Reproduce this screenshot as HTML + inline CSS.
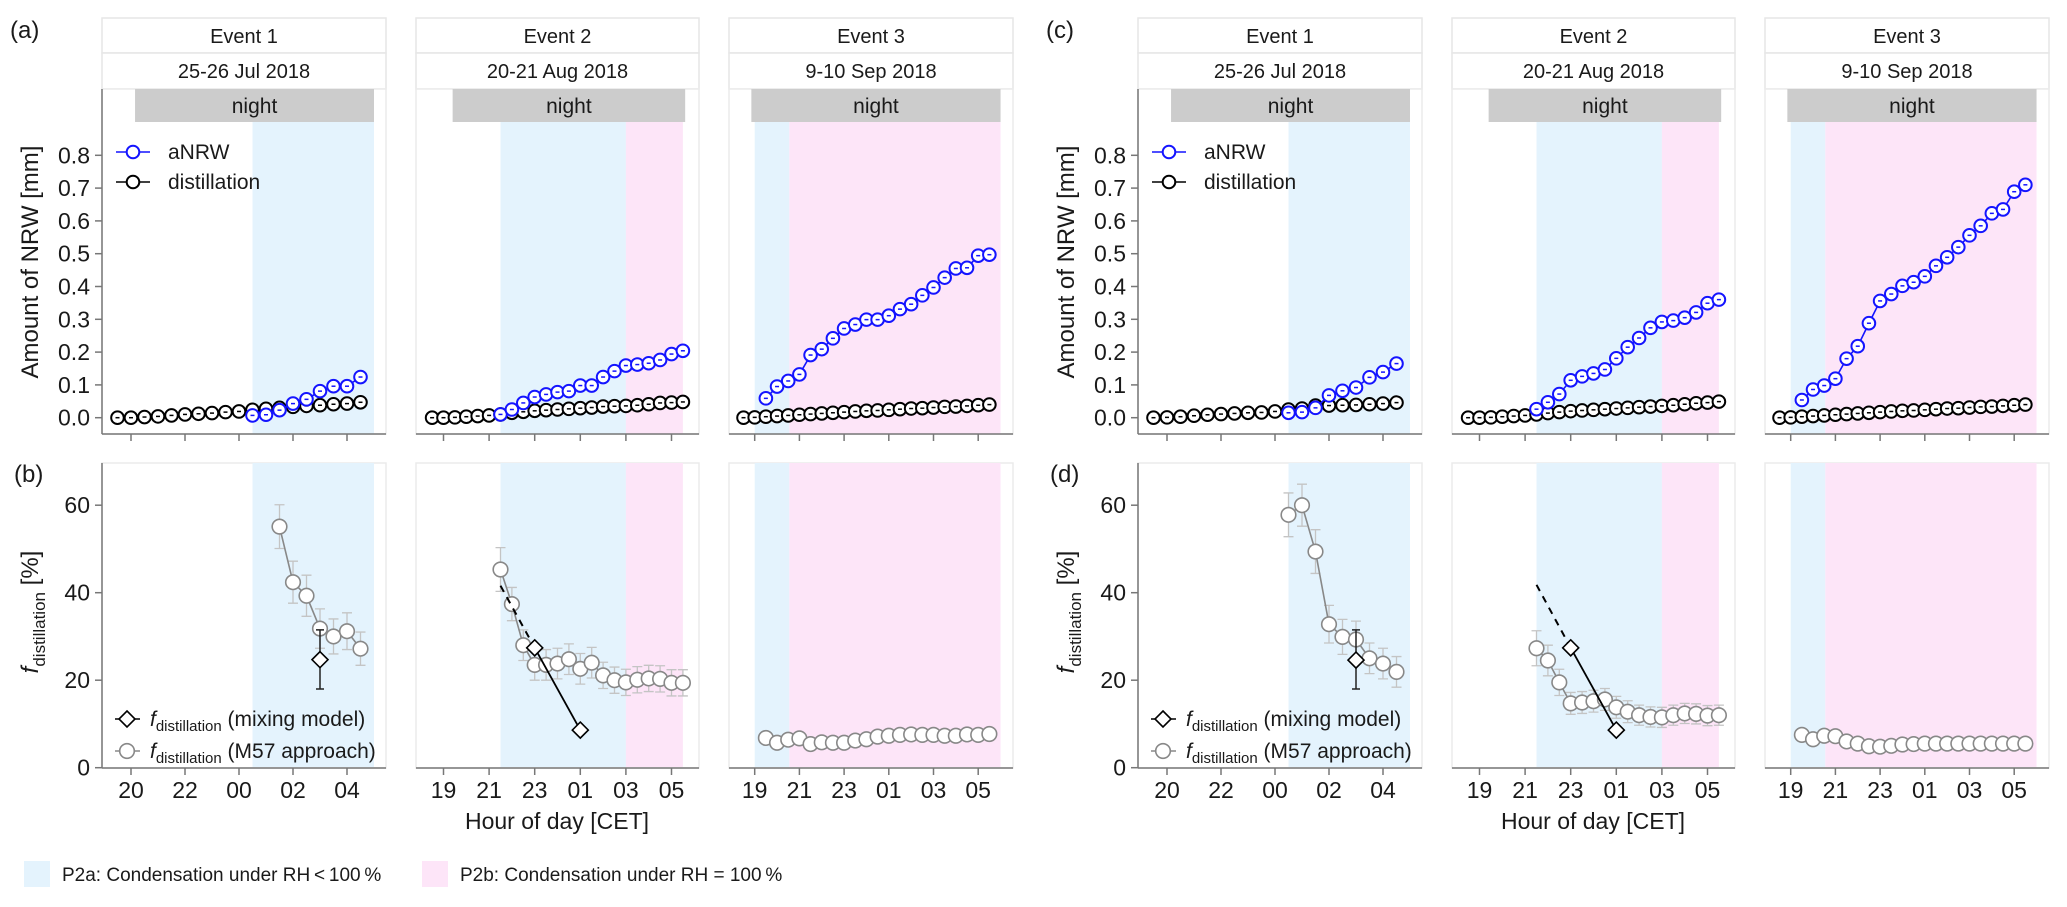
<!DOCTYPE html>
<html><head><meta charset="utf-8">
<style>
html,body{margin:0;padding:0;background:#fff;}
svg{display:block;font-family:"Liberation Sans",sans-serif;}
</style></head>
<body>
<svg id="fig" width="2067" height="907" viewBox="0 0 2067 907" xmlns="http://www.w3.org/2000/svg"></svg>
<script>
// ---------- data ----------
const e1DistTimes=[19.5,20,20.5,21,21.5,22,22.5,23,23.5,24,24.5,25,25.5,26,26.5,27,27.5,28,28.5];
const e1AnrwTimes=[24.5,25,25.5,26,26.5,27,27.5,28,28.5];
const e23DistTimes=[18.5,19,19.5,20,20.5,21,21.5,22,22.5,23,23.5,24,24.5,25,25.5,26,26.5,27,27.5,28,28.5,29,29.5];
const e2AnrwTimes=[21.5,22,22.5,23,23.5,24,24.5,25,25.5,26,26.5,27,27.5,28,28.5,29,29.5];
const e3AnrwTimes=[19.5,20,20.5,21,21.5,22,22.5,23,23.5,24,24.5,25,25.5,26,26.5,27,27.5,28,28.5,29,29.5];

const aE1Dist=[0,0,0.002,0.004,0.007,0.010,0.012,0.014,0.017,0.019,0.024,0.027,0.030,0.033,0.036,0.038,0.041,0.043,0.047];
const aE1Anrw=[0.007,0.009,0.023,0.043,0.056,0.081,0.096,0.096,0.124];
const aE2Dist=[0,0,0.001,0.003,0.005,0.007,0.010,0.015,0.018,0.021,0.023,0.025,0.027,0.029,0.031,0.034,0.035,0.036,0.038,0.041,0.045,0.046,0.048];
const aE2Anrw=[0.010,0.025,0.045,0.063,0.071,0.078,0.081,0.098,0.098,0.124,0.142,0.159,0.162,0.166,0.176,0.194,0.204];
const aE3Dist=[0,0.001,0.003,0.005,0.007,0.009,0.011,0.013,0.015,0.017,0.019,0.021,0.022,0.024,0.026,0.028,0.029,0.031,0.033,0.034,0.036,0.038,0.040];
const aE3Anrw=[0.059,0.095,0.112,0.132,0.191,0.209,0.242,0.272,0.284,0.299,0.299,0.311,0.331,0.346,0.373,0.397,0.427,0.455,0.457,0.494,0.497];

const cE1Dist=[0,0.001,0.003,0.006,0.009,0.011,0.013,0.015,0.016,0.019,0.025,0.028,0.037,0.037,0.038,0.039,0.041,0.043,0.046];
const cE1Anrw=[0.015,0.017,0.030,0.068,0.082,0.092,0.123,0.139,0.165];
const cE2Dist=[0,0,0.001,0.003,0.005,0.007,0.010,0.014,0.017,0.020,0.022,0.024,0.026,0.028,0.030,0.032,0.034,0.036,0.038,0.041,0.044,0.046,0.049];
const cE2Anrw=[0.026,0.047,0.072,0.114,0.126,0.135,0.147,0.181,0.215,0.243,0.274,0.292,0.296,0.305,0.321,0.349,0.360];
const cE3Dist=[0,0.001,0.003,0.005,0.007,0.009,0.011,0.013,0.015,0.017,0.019,0.021,0.022,0.024,0.026,0.028,0.029,0.031,0.033,0.034,0.036,0.038,0.040];
const cE3Anrw=[0.054,0.086,0.098,0.119,0.180,0.218,0.288,0.356,0.377,0.402,0.413,0.431,0.463,0.489,0.520,0.556,0.585,0.623,0.635,0.689,0.710];

const bE1Times=[25.5,26,26.5,27,27.5,28,28.5];
const bE1M57=[55.1,42.4,39.3,31.8,30.0,31.2,27.2];
const bE1Err=[5,4.8,4.7,4.5,4,4.2,3.8];
const dE1Times=[24.5,25,25.5,26,26.5,27,27.5,28,28.5];
const dE1M57=[57.8,60.0,49.4,32.8,29.9,29.3,25.0,23.8,21.9];
const dE1Err=[5,4.8,5,4.3,4,4.2,3.5,3.5,3.5];
const bE2M57=[45.3,37.4,28.0,23.5,23.5,23.8,24.8,22.6,24.0,21.1,20.0,19.5,20.1,20.4,20.3,19.4,19.4];
const bE2Err=[5,3.8,3.5,3.5,3.5,3.5,3.5,3.5,3.5,3,3,3,3,3,3,3,3];
const dE2M57=[27.3,24.5,19.5,14.7,14.9,15.2,15.6,13.8,12.8,12.0,11.6,11.5,12.0,12.4,12.3,11.9,12.0];
const dE2Err=[4,3.5,3,2.5,2.5,2.5,2.5,2.5,2.5,2.3,2.3,2.3,2.3,2.3,2.3,2.3,2.3];
const bE3M57=[6.8,5.7,6.4,6.7,5.4,5.8,5.7,5.7,6.2,6.5,7.1,7.3,7.5,7.6,7.5,7.5,7.3,7.3,7.6,7.5,7.7];
const dE3M57=[7.5,6.5,7.3,7.2,6.0,5.5,4.9,4.8,5.0,5.3,5.4,5.5,5.5,5.5,5.5,5.5,5.5,5.5,5.5,5.5,5.5];
const e3Err=[0.7,0.7,0.7,0.7,0.7,0.7,0.7,0.7,0.7,0.7,0.7,0.7,0.7,0.7,0.7,0.7,0.7,0.7,0.7,0.7,0.7];

const mixE1Times=[27]; const bMixE1=[24.7]; const dMixE1=[24.6]; const mixE1Lo=[18]; const mixE1Hi=[31.5];
const mixE2Times=[23,25]; const bMixE2=[27.4,8.6]; const dMixE2=[27.4,8.6];
const extE2Times=[21.5,23]; const bExtE2=[41.6,27.4]; const dExtE2=[41.8,27.4];

const yTopTicks=[0.0,0.1,0.2,0.3,0.4,0.5,0.6,0.7,0.8];
const yBotTicks=[0,20,40,60];
const e1TickHours=[20,22,24,26,28]; const e1TickLabels=["20","22","00","02","04"];
const e23TickHours=[19,21,23,25,27,29]; const e23TickLabels=["19","21","23","01","03","05"];
const eventNames=["Event 1","Event 2","Event 3"];
const eventDates=["25-26 Jul 2018","20-21 Aug 2018","9-10 Sep 2018"];
const nightSpans=[[20.15,29.0],[19.4,29.6],[18.85,30.0]];
const blueSpans=[[24.5,29.0],[21.5,27.0],[19.0,20.55]];
const pinkSpans=[null,[27.0,29.5],[20.55,30.0]];

// ---------- geometry ----------
const NS="http://www.w3.org/2000/svg";
const svg=document.getElementById('fig');
const panelsX=[[102,386],[416,699],[729,1013]];
const axes=[{x0:131,h0:20,k:27},{x0:443.5,h0:19,k:22.8},{x0:754.7,h0:19,k:22.35}];
const TOP={t:89,b:434,zero:417.7,k:328};
const BOT={t:463,b:768,zero:767.7,k:4.375};
function xs(ev,h,off){const a=axes[ev];return off+a.x0+(h-a.h0)*a.k;}
function yTop(v){return TOP.zero-v*TOP.k;}
function yBot(v){return BOT.zero-v*BOT.k;}
function mk(tag,attrs,parent){const e=document.createElementNS(NS,tag);for(const k in attrs)e.setAttribute(k,attrs[k]);(parent||svg).appendChild(e);return e;}
function txt(s,attrs,parent){const e=mk('text',attrs,parent);e.textContent=s;return e;}

function drawSeries(ev,off,times,vals,color,name){
  const pts=times.map((t,i)=>xs(ev,t,off)+','+yTop(vals[i])).join(' ');
  const pl=mk('polyline',{points:pts,fill:'none',stroke:color,'stroke-width':1.6});
  
  
  times.forEach((t,i)=>{
    const cx=xs(ev,t,off),cy=yTop(vals[i]);
    const c=mk('circle',{cx:cx,cy:cy,r:6.3,fill:'#fff',stroke:color,'stroke-width':2});
    
    
    const d=mk('line',{x1:cx-2,x2:cx+2,y1:cy,y2:cy,stroke:color,'stroke-width':1.5});
    
    
  });
}
function drawM57(ev,off,times,vals,errs){
  times.forEach((t,i)=>{
    const x=xs(ev,t,off),y1=yBot(vals[i]-errs[i]),y2=yBot(vals[i]+errs[i]);
    const g=mk('path',{d:`M${x},${y1}V${y2}M${x-5},${y1}H${x+5}M${x-5},${y2}H${x+5}`,stroke:'#c4c4c4','stroke-width':1.3,fill:'none'});
    
    
  });
  const pl=mk('polyline',{points:times.map((t,i)=>xs(ev,t,off)+','+yBot(vals[i])).join(' '),fill:'none',stroke:'#888','stroke-width':1.6});
  
  
  times.forEach((t,i)=>{
    const c=mk('circle',{cx:xs(ev,t,off),cy:yBot(vals[i]),r:7.3,fill:'#fff',stroke:'#888','stroke-width':1.6});
    
    
  });
}
function diamond(x,y){
  const d=mk('path',{d:`M${x},${y-8}L${x+8},${y}L${x},${y+8}L${x-8},${y}Z`,fill:'#fff',stroke:'#000','stroke-width':1.6});
  
  
}

function drawGroup(off,topLetter,botLetter,top,bot){
  for(let ev=0;ev<3;ev++){
    const L=panelsX[ev][0]+off,R=panelsX[ev][1]+off;
    // strips
    const s1=mk('rect',{x:L,y:18,width:R-L,height:35,fill:'#fff',stroke:'#e6e6e6','stroke-width':1.5});
    
    
    const t1=txt(eventNames[ev],{x:(L+R)/2,y:43,'text-anchor':'middle','font-size':20,fill:'#1a1a1a'});
    
    
    const s2=mk('rect',{x:L,y:53,width:R-L,height:36,fill:'#fff',stroke:'#e6e6e6','stroke-width':1.5});
    
    
    const t2=txt(eventDates[ev],{x:(L+R)/2,y:78,'text-anchor':'middle','font-size':20,fill:'#1a1a1a'});
    
    
    // top panel
    const pt=mk('rect',{x:L,y:TOP.t,width:R-L,height:TOP.b-TOP.t,fill:'#fff',stroke:'#ebebeb','stroke-width':1.5});
    
    
    const pb=mk('rect',{x:L,y:BOT.t,width:R-L,height:BOT.b-BOT.t,fill:'#fff',stroke:'#ebebeb','stroke-width':1.5});
    
    
    const bs=blueSpans[ev],ps=pinkSpans[ev];
    [[TOP.t+33,TOP.b],[BOT.t,BOT.b-1]].forEach(([y0,y1])=>{
      const b=mk('rect',{x:xs(ev,bs[0],off),y:y0,width:xs(ev,bs[1],off)-xs(ev,bs[0],off),height:y1-y0,fill:'#e4f3fd'});
      
      
      if(ps){
        const p=mk('rect',{x:xs(ev,ps[0],off),y:y0,width:xs(ev,ps[1],off)-xs(ev,ps[0],off),height:y1-y0,fill:'#fde5f8'});
        
        
      }
    });
    const ns=nightSpans[ev];
    const nb=mk('rect',{x:xs(ev,ns[0],off),y:TOP.t,width:xs(ev,ns[1],off)-xs(ev,ns[0],off),height:33,fill:'#cccccc'});
    
    
    const nt=txt('night',{x:(xs(ev,ns[0],off)+xs(ev,ns[1],off))/2,y:TOP.t+24,'text-anchor':'middle','font-size':21,fill:'#1a1a1a'});
    
    
    // x axes
    const th=ev===0?e1TickHours:e23TickHours, tl=ev===0?e1TickLabels:e23TickLabels;
    [TOP.b,BOT.b].forEach((ya,k)=>{
      const ax=mk('line',{x1:L,x2:R,y1:ya,y2:ya,stroke:'#777','stroke-width':1.5});
      
      
      th.forEach(h=>{
        const tk=mk('line',{x1:xs(ev,h,off),x2:xs(ev,h,off),y1:ya,y2:ya+7,stroke:'#777','stroke-width':1.5});
        
        
      });
    });
    th.forEach((h,i)=>{
      const l=txt(tl[i],{x:xs(ev,h,off),y:798,'text-anchor':'middle','font-size':23,fill:'#1a1a1a'});
      
      
    });
    // series
    drawSeries(ev,off,ev===0?e1DistTimes:e23DistTimes,top.dist[ev],'#000','distillation');
    drawSeries(ev,off,[e1AnrwTimes,e2AnrwTimes,e3AnrwTimes][ev],top.anrw[ev],'#1414ff','anrw');
    drawM57(ev,off,bot.times[ev],bot.m57[ev],bot.err[ev]);
  }
  // mixing model
  const mx=xs(0,mixE1Times[0],off);
  const eb=mk('path',{d:`M${mx},${yBot(mixE1Lo[0])}V${yBot(mixE1Hi[0])}M${mx-4},${yBot(mixE1Lo[0])}H${mx+4}M${mx-4},${yBot(mixE1Hi[0])}H${mx+4}`,stroke:'#222','stroke-width':1.5,fill:'none'});
  
  
  diamond(mx,yBot(bot.mix1[0]));
  const dl=mk('line',{x1:xs(1,extE2Times[0],off),y1:yBot(bot.ext[0]),x2:xs(1,extE2Times[1],off),y2:yBot(bot.ext[1]),stroke:'#000','stroke-width':2,'stroke-dasharray':'7,6'});
  
  
  const ml=mk('line',{x1:xs(1,mixE2Times[0],off),y1:yBot(bot.mix2[0]),x2:xs(1,mixE2Times[1],off),y2:yBot(bot.mix2[1]),stroke:'#000','stroke-width':1.8});
  
  
  mixE2Times.forEach((t,i)=>diamond(xs(1,t,off),yBot(bot.mix2[i])));
  // y axes
  const ax0=102+off;
  [[TOP.t,TOP.b],[BOT.t,BOT.b]].forEach(([a,b],k)=>{
    const y=mk('line',{x1:ax0,x2:ax0,y1:a,y2:b,stroke:'#777','stroke-width':1.5});
    
    
  });
  yTopTicks.forEach(v=>{
    const tk=mk('line',{x1:ax0-7,x2:ax0,y1:yTop(v),y2:yTop(v),stroke:'#777','stroke-width':1.5});
    
    
    const l=txt(v.toFixed(1),{x:ax0-12,y:yTop(v)+8,'text-anchor':'end','font-size':23,fill:'#1a1a1a'});
    
    
  });
  yBotTicks.forEach(v=>{
    const tk=mk('line',{x1:ax0-7,x2:ax0,y1:yBot(v),y2:yBot(v),stroke:'#777','stroke-width':1.5});
    
    
    const l=txt(String(v),{x:ax0-12,y:yBot(v)+8,'text-anchor':'end','font-size':23,fill:'#1a1a1a'});
    
    
  });
  const yt=txt('Amount of NRW [mm]',{x:0,y:0,'text-anchor':'middle','font-size':24,fill:'#1a1a1a',transform:`translate(${38+off},262) rotate(-90)`});
  
  
  const yb=mk('text',{x:0,y:0,'text-anchor':'middle','font-size':24,fill:'#1a1a1a',transform:`translate(${38+off},612) rotate(-90)`});
  
  
  yb.innerHTML='<tspan font-style="italic">f</tspan><tspan font-size="17" dy="7">distillation</tspan><tspan dy="-7"> [%]</tspan>';
  // panel letters
  const la=txt(topLetter,{x:10+off,y:38,'font-size':24,fill:'#1a1a1a'});
  
  
  const lb=txt(botLetter,{x:14+off,y:482,'font-size':24,fill:'#1a1a1a'});
  
  
  // top legend
  const l1=mk('line',{x1:116+off,x2:150+off,y1:152,y2:152,stroke:'#1414ff','stroke-width':1.6});
  
  
  const c1=mk('circle',{cx:133+off,cy:152,r:6.3,fill:'#fff',stroke:'#1414ff','stroke-width':2});
  
  
  const tt1=txt('aNRW',{x:168+off,y:159,'font-size':21,fill:'#1a1a1a'});
  
  
  const l2=mk('line',{x1:116+off,x2:150+off,y1:182,y2:182,stroke:'#000','stroke-width':1.6});
  
  
  const c2=mk('circle',{cx:133+off,cy:182,r:6.3,fill:'#fff',stroke:'#000','stroke-width':2});
  
  
  const tt2=txt('distillation',{x:168+off,y:189,'font-size':21,fill:'#1a1a1a'});
  
  
  // bottom legend
  const bl1=mk('line',{x1:115+off,x2:140+off,y1:719,y2:719,stroke:'#000','stroke-width':1.6});
  
  
  diamond(127+off,719);
  const bt1=mk('text',{x:150+off,y:726,'font-size':21,fill:'#1a1a1a'});
  
  
  bt1.innerHTML='<tspan font-style="italic">f</tspan><tspan font-size="15" dy="5">distillation</tspan><tspan dy="-5"> (mixing model)</tspan>';
  const bl2=mk('line',{x1:115+off,x2:140+off,y1:751,y2:751,stroke:'#888','stroke-width':1.6});
  
  
  const bc2=mk('circle',{cx:127+off,cy:751,r:7.3,fill:'#fff',stroke:'#888','stroke-width':1.6});
  
  
  const bt2=mk('text',{x:150+off,y:758,'font-size':21,fill:'#1a1a1a'});
  
  
  bt2.innerHTML='<tspan font-style="italic">f</tspan><tspan font-size="15" dy="5">distillation</tspan><tspan dy="-5"> (M57 approach)</tspan>';
  // x title
  const xt=txt('Hour of day [CET]',{x:557+off,y:829,'text-anchor':'middle','font-size':23,fill:'#1a1a1a'});
  
  
}

drawGroup(0,'(a)','(b)',
  {dist:[aE1Dist,aE2Dist,aE3Dist],anrw:[aE1Anrw,aE2Anrw,aE3Anrw]},
  {times:[bE1Times,e2AnrwTimes,e3AnrwTimes],m57:[bE1M57,bE2M57,bE3M57],err:[bE1Err,bE2Err,e3Err],mix1:bMixE1,mix2:bMixE2,ext:bExtE2});
drawGroup(1036,'(c)','(d)',
  {dist:[cE1Dist,cE2Dist,cE3Dist],anrw:[cE1Anrw,cE2Anrw,cE3Anrw]},
  {times:[dE1Times,e2AnrwTimes,e3AnrwTimes],m57:[dE1M57,dE2M57,dE3M57],err:[dE1Err,dE2Err,e3Err],mix1:dMixE1,mix2:dMixE2,ext:dExtE2});

// bottom legend
const lg1=mk('rect',{x:24,y:861,width:26,height:26,fill:'#e4f3fd'});


const lt1=txt('P2a: Condensation under RH\u2009<\u2009100\u2009%',{x:62,y:881,'font-size':19,fill:'#1a1a1a'});


const lg2=mk('rect',{x:422,y:861,width:26,height:26,fill:'#fde5f8'});


const lt2=txt('P2b: Condensation under RH = 100\u2009%',{x:460,y:881,'font-size':19,fill:'#1a1a1a'});


</script>
</body></html>
